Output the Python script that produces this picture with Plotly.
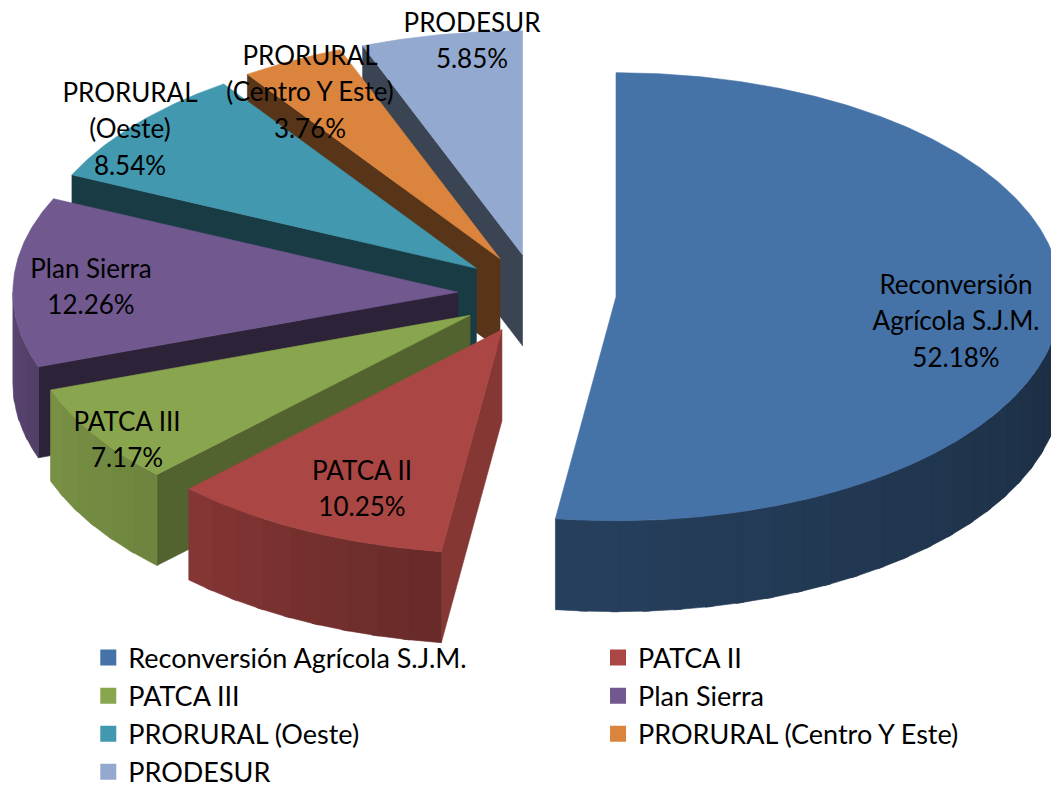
import math
import plotly.graph_objects as go

# ---- data ----
names = ["Reconversión Agrícola S.J.M.", "PATCA II", "PATCA III", "Plan Sierra",
         "PRORURAL (Oeste)", "PRORURAL (Centro Y Este)", "PRODESUR"]
shares = [52.18, 10.25, 7.17, 12.26, 8.54, 3.76, 5.85]
colors = ["#4572A7", "#AA4643", "#89A54E", "#71588F", "#4198AF", "#DB843D", "#93A9CF"]
label_lines = [["Reconversión", "Agrícola S.J.M.", "52.18%"],
               ["PATCA II", "10.25%"],
               ["PATCA III", "7.17%"],
               ["Plan Sierra", "12.26%"],
               ["PRORURAL", "(Oeste)", "8.54%"],
               ["PRORURAL", "(Centro Y Este)", "3.76%"],
               ["PRODESUR", "5.85%"]]

# ---- styling / projection ----
W, H = 1051, 785
CX, CY = 537, 294        # pie centre before explosion
RX, RY = 445, 224        # projected ellipse radii
DEPTH = 91               # extrusion height
EXPLODE = 0.178
FONT = "Lato"
FS = 26
LEGEND_FS = 27
LINE = 36.5
label_centers = [(956, 287), (362, 473), (127, 424), (91, 271), (130, 95), (310, 58), (472, 25)]
# wall shade (right end, left end) and cut-face shade for each slice
wall_shade = [(0.39, 0.56), (0.60, 0.78), (0.80, 0.88), (0.72, 0.80), (0.5, 0.5), (0.5, 0.5), (0.5, 0.5)]
face_shade = [0.5, 0.78, 0.60, 0.40, 0.39, 0.40, 0.40]


def rgb(hexcol, f):
    r, g, b = (int(hexcol[i:i + 2], 16) for i in (1, 3, 5))
    return f"rgb({r * f:.0f},{g * f:.0f},{b * f:.0f})"


def rim(apex, deg, dy=0.0):
    a = math.radians(deg)
    return apex[0] + RX * math.sin(a), apex[1] - RY * math.cos(a) + dy


def poly(fig, pts, color):
    fig.add_trace(go.Scatter(
        x=[p[0] for p in pts] + [pts[0][0]], y=[p[1] for p in pts] + [pts[0][1]],
        mode="lines", fill="toself", fillcolor=color,
        line=dict(color=color, width=0.6), showlegend=False, hoverinfo="skip"))


def arc(a0, a1, step=1.0):
    n = max(1, int(abs(a1 - a0) / step))
    return [a0 + (a1 - a0) * i / n for i in range(n + 1)]


total = sum(shares)
angles = [0.0]
for s in shares:
    angles.append(angles[-1] + 360 * s / total)

fig = go.Figure()
# painter's order: PRODESUR back round to PATCA II, then the big slice in front
for i in [6, 5, 4, 3, 2, 1, 0]:
    a0, a1 = angles[i], angles[i + 1]
    m = math.radians((a0 + a1) / 2)
    apex = (CX + EXPLODE * RX * math.sin(m), CY - EXPLODE * RY * math.cos(m))
    col = colors[i]
    # cut face on the start edge, visible for all slices but the first
    if i != 0:
        s = rim(apex, a0)
        poly(fig, [apex, s, (s[0], s[1] + DEPTH), (apex[0], apex[1] + DEPTH)], rgb(col, face_shade[i]))
    # outer wall (lower half of the ellipse only), in shaded bands that overlap to hide seams
    w0, w1 = max(a0, 90), min(a1, 270)
    if w1 > w0:
        n = max(1, int((w1 - w0) / 4))
        for k in range(n):
            b0 = w0 + (w1 - w0) * k / n
            b1 = min(w1, w0 + (w1 - w0) * (k + 1) / n + 1.0)
            t = (k + 0.5) / n
            f = wall_shade[i][0] + (wall_shade[i][1] - wall_shade[i][0]) * t
            top = [rim(apex, d) for d in arc(b0, b1, 0.5)]
            bot = [rim(apex, d, DEPTH) for d in arc(b1, b0, 0.5)]
            poly(fig, top + bot, rgb(col, f))
    # top face
    poly(fig, [apex] + [rim(apex, d) for d in arc(a0, a1, 0.5)], col)

# data labels, one text point per line
xs, ys, ts = [], [], []
for (cx, cy), lines in zip(label_centers, label_lines):
    for j, t in enumerate(lines):
        xs.append(cx)
        ys.append(cy + j * LINE)
        ts.append(t)
fig.add_trace(go.Scatter(x=xs, y=ys, text=ts, mode="text", textposition="middle center",
                         textfont=dict(family=FONT, size=FS, color="black"),
                         showlegend=False, hoverinfo="skip", cliponaxis=False))

# legend entries: two columns, entries run across the rows
for k, (n, c) in enumerate(zip(names, colors)):
    fig.add_trace(go.Scatter(x=[None], y=[None], mode="markers", name=n,
                             legend="legend" if k % 2 == 0 else "legend2",
                             marker=dict(symbol="square", size=16, color=c)))

legend_style = dict(orientation="v", xanchor="left", yanchor="top", traceorder="normal",
                    font=dict(family=FONT, size=LEGEND_FS, color="black"),
                    bgcolor="rgba(0,0,0,0)")
fig.update_layout(
    width=W, height=H, margin=dict(l=0, r=0, t=0, b=0, autoexpand=False),
    paper_bgcolor="white", plot_bgcolor="white",
    xaxis=dict(range=[0, W], visible=False, fixedrange=True),
    yaxis=dict(range=[H, 0], visible=False, fixedrange=True),
    legend=dict(x=0.084, y=0.193, **legend_style),
    legend2=dict(x=0.569, y=0.193, **legend_style),
)
fig.write_html("out.html", config={"displayModeBar": False},
               post_script="document.body.style.margin='0';")
